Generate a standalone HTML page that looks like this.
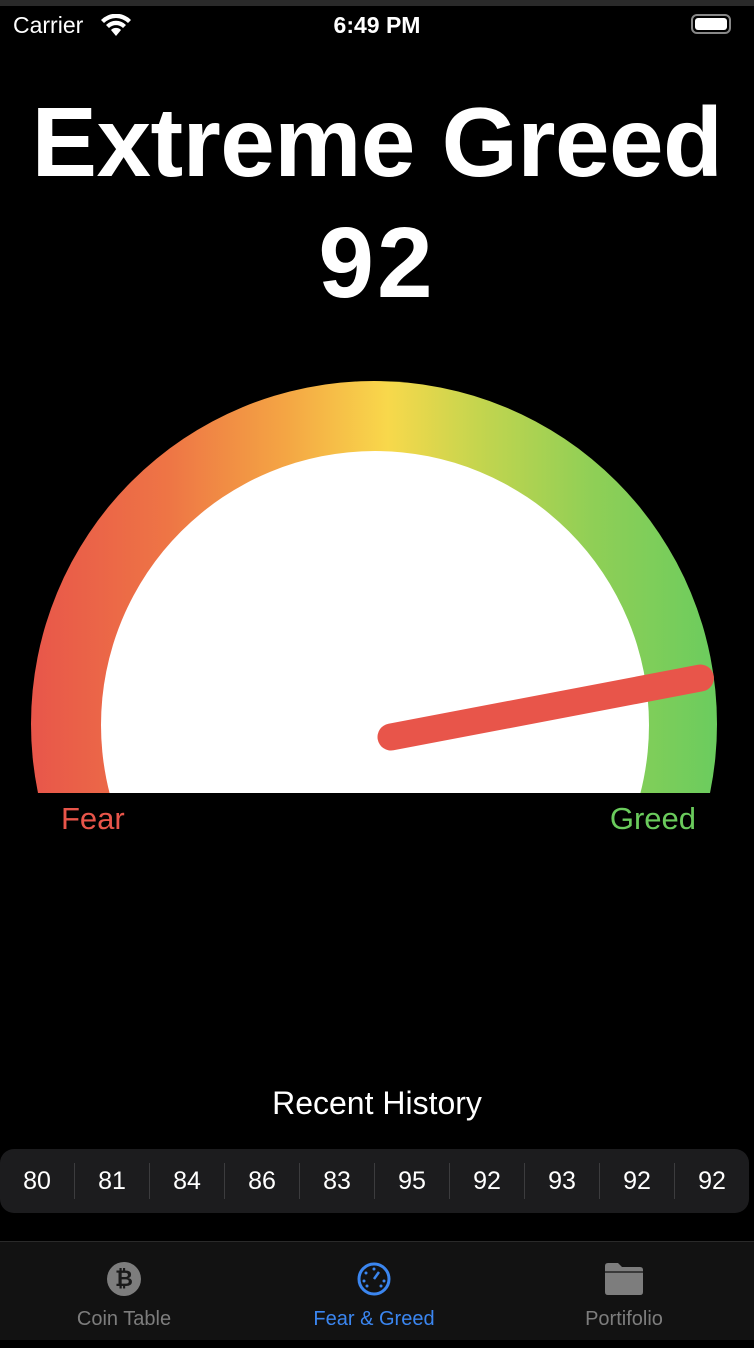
<!DOCTYPE html>
<html><head><meta charset="utf-8"><style>
body{margin:0;width:754px;height:1348px;background:#000;overflow:hidden;position:relative;font-family:"Liberation Sans",sans-serif;color:#fff}
.abs{position:absolute}
</style></head><body>
<div class="abs" style="left:0;top:0;width:754px;height:6px;background:#2a2a2a"></div>
<div class="abs" style="left:13px;top:12px;font-size:23px">Carrier</div>
<svg class="abs" style="left:100px;top:14px" width="32" height="24" viewBox="0 0 32 24"><path d="M16 22 L11 16 A7 7 0 0 1 21 16 Z" fill="#fff"/><path d="M6 11 A14 14 0 0 1 26 11 L23 14 A10 10 0 0 0 9 14 Z" fill="#fff"/><path d="M1 6 A21 21 0 0 1 31 6 L28 9 A17 17 0 0 0 4 9 Z" fill="#fff"/></svg>
<div class="abs" style="left:0;width:754px;top:12px;text-align:center;font-size:23px;font-weight:bold">6:49 PM</div>
<div class="abs" style="left:691px;top:14px;width:40px;height:20px;border:2px solid #888;border-radius:6px;box-sizing:border-box;padding:2px"><div style="background:#fff;width:100%;height:100%;border-radius:3px"></div></div>
<div class="abs" style="left:0;width:754px;top:86px;text-align:center;font-size:98px;font-weight:bold;letter-spacing:-0.5px">Extreme Greed</div>
<div class="abs" style="left:0;width:754px;top:206px;text-align:center;font-size:100px;font-weight:bold;letter-spacing:3px">92</div>
<div class="abs" style="left:0;top:370px;width:754px;height:423px;overflow:hidden">
<div style="position:absolute;left:31px;top:11px;width:686px;height:686px;border-radius:50%;background:linear-gradient(to right,#e8564a 0%,#ee7545 20%,#f4a544 37%,#f8d84b 52%,#c5d54e 65%,#8fcf56 82%,#6bcc5e 100%)"></div>
<div style="position:absolute;left:101px;top:81px;width:548px;height:548px;border-radius:50%;background:#fff"></div>
</div>
<svg class="abs" style="left:0;top:0" width="754" height="1348">
<line id="needle" stroke="#e8554a" stroke-width="27" stroke-linecap="round"/>
</svg>
<div class="abs" style="left:61px;top:801px;font-size:31px;color:#e8554a">Fear</div>
<div class="abs" style="right:58px;top:801px;font-size:31px;color:#6acb5c">Greed</div>
<div class="abs" style="left:0;width:754px;top:1085px;text-align:center;font-size:32px">Recent History</div>
<div class="abs" id="hist" style="left:0;top:1149px;width:749px;height:64px;background:#1c1c1e;border-radius:14px;display:flex;align-items:center"></div>
<div class="abs" style="left:0;top:1241px;width:754px;height:99px;background:#121212;border-top:1px solid #2a2a2a"></div>
<div class="abs" style="left:24px;top:1262px;width:200px;text-align:center;color:#7d7d7d;font-size:20px">
<div style="width:34px;height:34px;border-radius:50%;background:#7d7d7d;margin:0 auto 12px;color:#1a1a1a;font-weight:bold;font-size:22px;line-height:34px">₿</div>Coin Table</div>
<div class="abs" style="left:274px;top:1262px;width:200px;text-align:center;color:#3b86f0;font-size:20px">
<svg width="34" height="34" viewBox="0 0 34 34" style="display:block;margin:0 auto 12px"><circle cx="17" cy="17" r="15" fill="none" stroke="#3b86f0" stroke-width="3"/><line x1="17" y1="17" x2="22" y2="10" stroke="#3b86f0" stroke-width="2.5"/><circle cx="17" cy="7" r="1.5" fill="#3b86f0"/><circle cx="9" cy="11" r="1.5" fill="#3b86f0"/><circle cx="7" cy="19" r="1.5" fill="#3b86f0"/><circle cx="27" cy="19" r="1.5" fill="#3b86f0"/><circle cx="10" cy="24" r="1.5" fill="#3b86f0"/><circle cx="24" cy="24" r="1.5" fill="#3b86f0"/></svg>Fear &amp; Greed</div>
<div class="abs" style="left:524px;top:1262px;width:200px;text-align:center;color:#7d7d7d;font-size:20px">
<svg width="40" height="34" viewBox="0 0 40 34" style="display:block;margin:0 auto 12px"><path d="M1 4 Q1 1 4 1 L14 1 L18 5 L36 5 Q39 5 39 8 L39 30 Q39 33 36 33 L4 33 Q1 33 1 30 Z" fill="#7d7d7d"/><rect x="1" y="9" width="38" height="2" fill="#3a3a3a"/></svg>Portifolio</div>
<div class="abs" style="left:0;top:1340px;width:754px;height:8px;background:#000"></div>
<script>
const historyValues=[80,81,84,86,83,95,92,93,92,92];
const currentValue=92;
const hist=document.getElementById('hist');
historyValues.forEach((v,i)=>{
 const d=document.createElement('div');
 
 
 d.style.cssText='flex:1;text-align:center;font-size:25px;height:36px;line-height:36px;'+(i>0?'border-left:1px solid #3c3c3e':'');
 d.textContent=v;hist.appendChild(d);
});
const a0=184.3,a1=-4.3;
function ang(v){return (a0+(a1-a0)*v/100)*Math.PI/180;}
const cx=391,cy=737,L=315;
const n=document.getElementById('needle');
const t=ang(currentValue);
n.setAttribute('x1',cx);n.setAttribute('y1',cy);
n.setAttribute('x2',cx+L*Math.cos(t));n.setAttribute('y2',cy-L*Math.sin(t));
</script>
</body></html>
